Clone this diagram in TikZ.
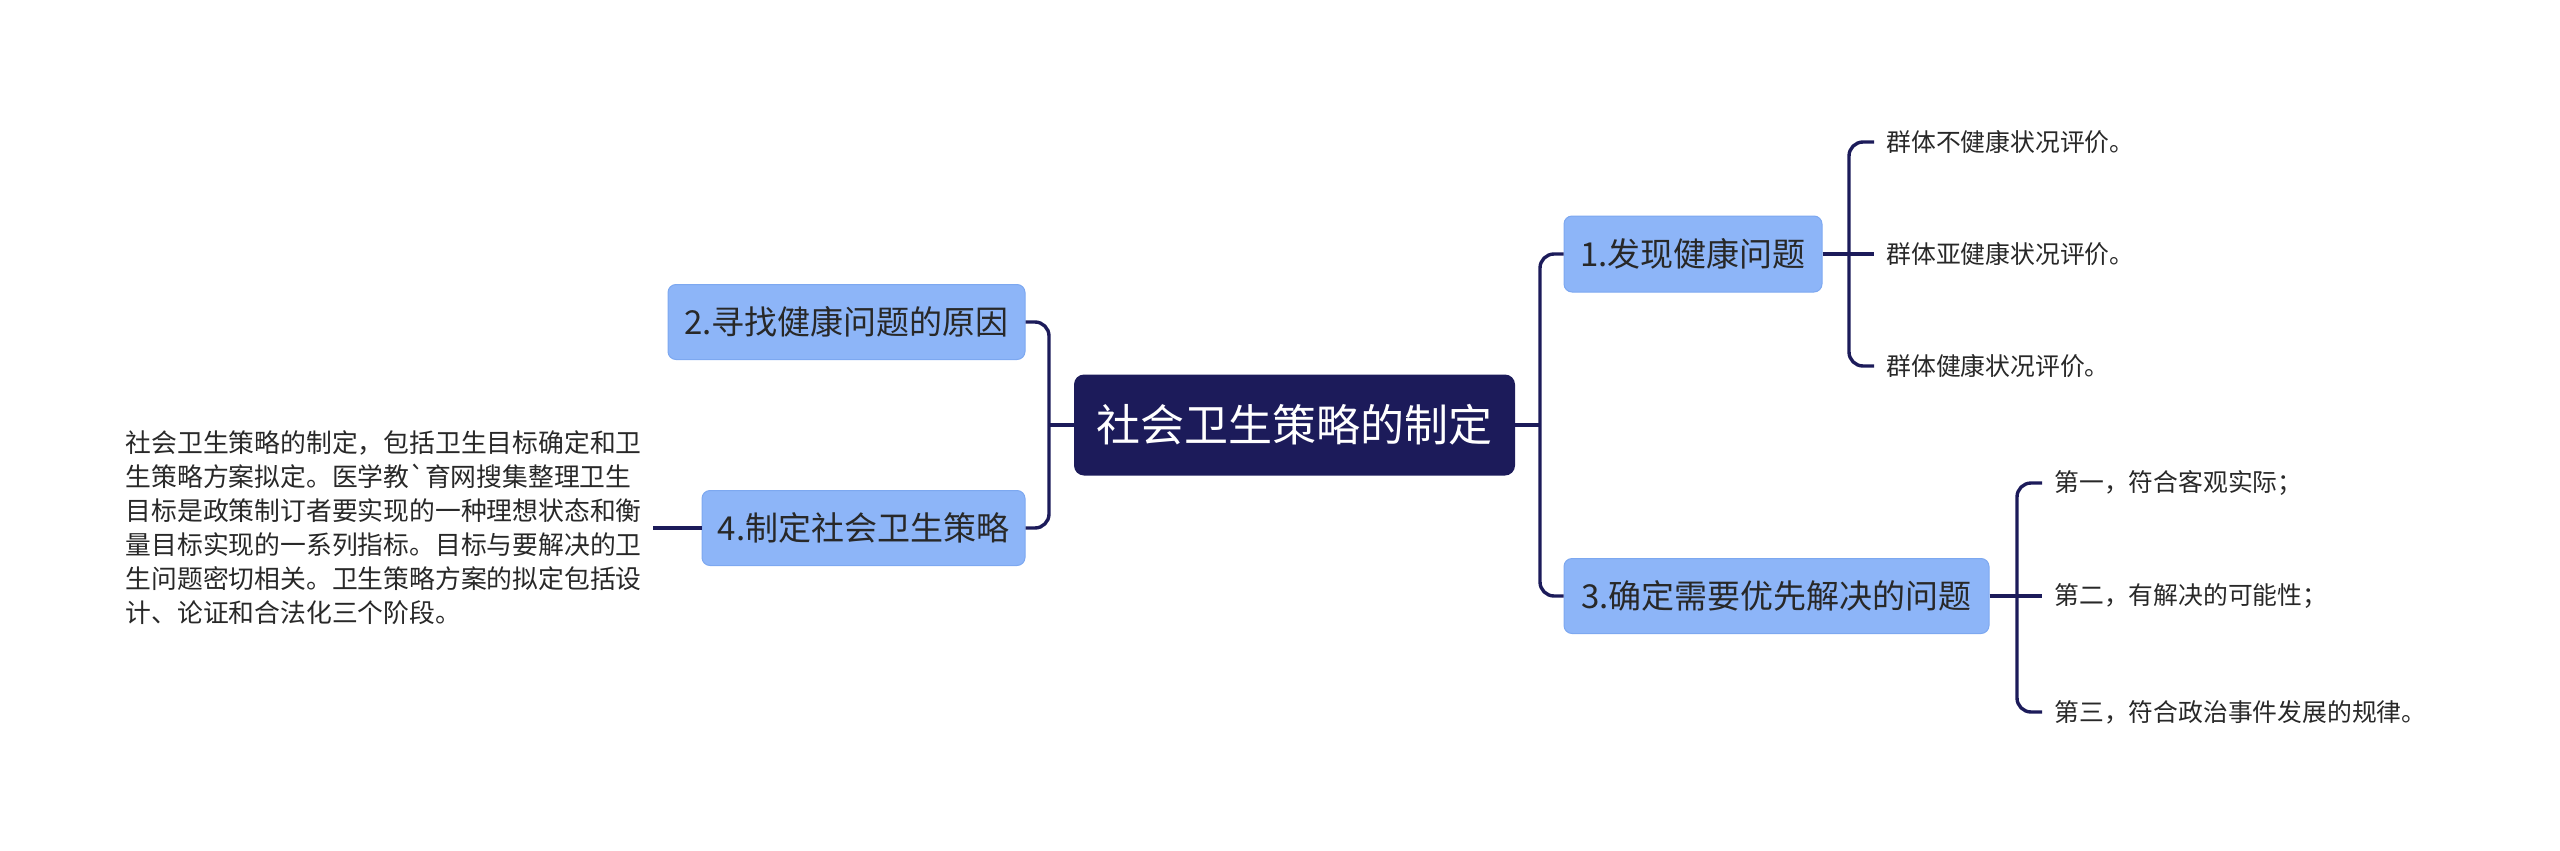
\documentclass[tikz,border=0pt]{standalone}
\usepackage{fontspec}
\setmainfont{Noto Sans CJK SC}
\newfontfamily\plainfont{Noto Sans CJK SC}
\definecolor{navy}{RGB}{28,27,90}
\definecolor{nodeblue}{RGB}{141,181,248}
\definecolor{nodeborder}{RGB}{125,168,240}
\definecolor{txt}{RGB}{40,40,40}
\begin{document}
\begin{tikzpicture}[x=0.5pt,y=-0.5pt,
  conn/.style={draw=navy, line width=1.7pt, rounded corners=7pt},
  topic/.style={fill=nodeblue, draw=nodeborder, line width=0.5pt, rounded corners=4pt, inner sep=0pt, text=txt, font=\fontsize{16.5pt}{20pt}\selectfont, minimum height=37.5pt},
  rootbox/.style={fill=navy, rounded corners=5pt, inner sep=0pt, text=white, font=\fontsize{22pt}{26pt}\selectfont, minimum width=220.5pt, minimum height=50.5pt},
  leaf/.style={anchor=west, inner xsep=6pt, inner ysep=0pt, text=txt, font=\fontsize{12.4pt}{15pt}\selectfont},
  para/.style={anchor=east, inner xsep=5.5pt, inner ysep=0pt, align=left, text=txt, font=\fontsize{12.9pt}{17pt}\selectfont}
]
\useasboundingbox (0,0) rectangle (2560,851);
% root and topics
\node[rootbox] (root) at (1294.5,425) {社会卫生策略的制定};
\node[topic, minimum width=178.5pt] (n2) at (846.5,322) {2.寻找健康问题的原因};
\node[topic, minimum width=161.5pt] (n4) at (863.5,528) {4.制定社会卫生策略};
\node[topic, minimum width=129pt, minimum height=38pt] (n1) at (1693,254) {1.发现健康问题};
\node[topic, minimum width=212.5pt] (n3) at (1776.5,596) {3.确定需要优先解决的问题};
% leaves
\node[leaf] (l11) at (1874,142) {群体不健康状况评价。};
\node[leaf] (l12) at (1874,254) {群体亚健康状况评价。};
\node[leaf] (l13) at (1874,366) {群体健康状况评价。};
\node[leaf] (l31) at (2042,483) {第一，符合客观实际；};
\node[leaf] (l32) at (2042,596) {第二，有解决的可能性；};
\node[leaf] (l33) at (2042,712) {第三，符合政治事件发展的规律。};
\node[para] (p4) at (653,528) {社会卫生策略的制定，包括卫生目标确定和卫\\生策略方案拟定。医学教{\plainfont`}育网搜集整理卫生\\目标是政策制订者要实现的一种理想状态和衡\\量目标实现的一系列指标。目标与要解决的卫\\生问题密切相关。卫生策略方案的拟定包括设\\计、论证和合法化三个阶段。};
% bracket points
\coordinate (lb) at (1049,425);
\coordinate (rb) at (1540,425);
\coordinate (b1) at (1849,254);
\coordinate (b3) at (2017,596);
% connectors
\draw[conn] (root.west) -- (lb);
\draw[conn] (n2.east) -| (lb) |- (n4.east);
\draw[conn] (root.east) -- (rb);
\draw[conn] (n1.west) -| (rb) |- (n3.west);
\draw[conn] (n1.east) -- (b1);
\draw[conn] (b1) |- (l11.west);
\draw[conn] (b1) -- (l12.west);
\draw[conn] (b1) |- (l13.west);
\draw[conn] (n3.east) -- (b3);
\draw[conn] (b3) |- (l31.west);
\draw[conn] (b3) -- (l32.west);
\draw[conn] (b3) |- (l33.west);
\draw[conn] (n4.west) -- (p4.east);
\end{tikzpicture}
\end{document}
